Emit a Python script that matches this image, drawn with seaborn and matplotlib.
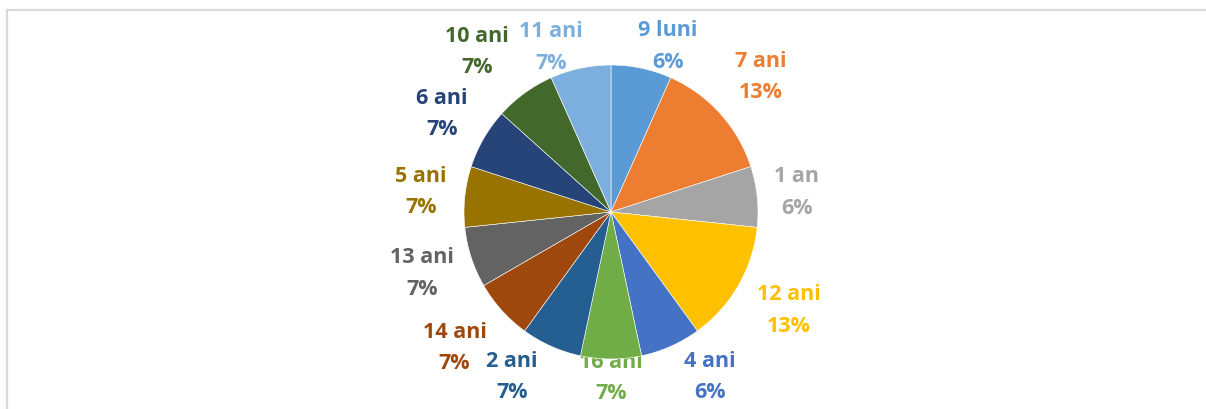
import numpy as np
import matplotlib.pyplot as plt
import seaborn as sns
from matplotlib.patches import Rectangle

# slice data, clockwise from 12 o'clock
categories = ["9 luni", "7 ani", "1 an", "12 ani", "4 ani", "16 ani", "2 ani",
              "14 ani", "13 ani", "5 ani", "6 ani", "10 ani", "11 ani"]
counts = [1, 2, 1, 2, 1, 1, 1, 1, 1, 1, 1, 1, 1]
pct_labels = ["6%", "13%", "6%", "13%", "6%", "7%", "7%", "7%", "7%", "7%", "7%", "7%", "7%"]
slice_colors = ["#5B9BD5", "#ED7D31", "#A5A5A5", "#FFC000", "#4472C4", "#70AD47", "#255E91",
                "#9E480E", "#636363", "#997300", "#264478", "#43682B", "#7CAFDD"]

# label layout tweaks (radial distance in radii, angle nudge in degrees)
label_dist = [1.19, 1.37, 1.27, 1.38, 1.31, 1.13, 1.31, 1.41, 1.35, 1.30, 1.33, 1.42, 1.19]
label_nudge = [7, 0, 0, -1, -7, 0, 7, 1, 0, 0, 0, -4, -8]

sns.set_theme(style="white")
plt.rcParams['font.family'] = ['Open Sans', 'DejaVu Sans']

fig = plt.figure(figsize=(12.06, 4.09), dpi=100)
ax = fig.add_axes([0, 0, 1, 1])

cx, cy, r = 611, 197, 147
palette = sns.color_palette(slice_colors)
wedges, _ = ax.pie(counts, colors=palette, startangle=90, counterclock=False,
                   center=(cx, cy), radius=r, frame=True,
                   wedgeprops=dict(edgecolor="white", linewidth=0.4, zorder=3))
ax.set_xlim(0, 1206)
ax.set_ylim(0, 409)
ax.axis('off')

# chart area border (extends past the image on right/bottom)
ax.add_patch(Rectangle((7, -50), 1300, 449.5, fill=False, edgecolor="#D9D9D9", lw=1.6, zorder=0))

for w, name, pct, col, d, nud in zip(wedges, categories, pct_labels, palette, label_dist, label_nudge):
    mid = (w.theta1 + w.theta2) / 2.0  # matplotlib degrees, ccw from 3 o'clock
    a = np.deg2rad(mid - nud)
    x = cx + d * r * np.cos(a)
    y = cy + d * r * np.sin(a)
    ax.text(x, y, f"{name}\n{pct}", color=col, ha="center", va="center",
            fontsize=15.5, fontweight="bold", linespacing=1.65, zorder=2)

fig.savefig("out.png", dpi=100)
